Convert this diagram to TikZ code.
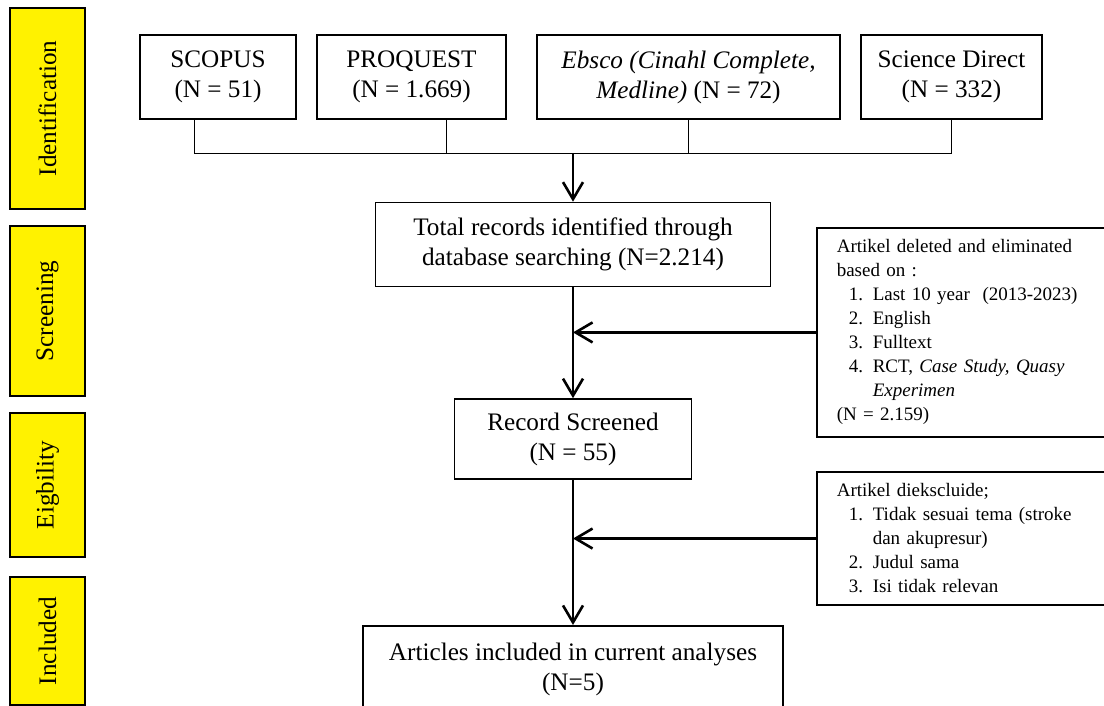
\documentclass[tikz,border=0pt]{standalone}
\usepackage{fontspec}
\setmainfont{Liberation Serif}
\usetikzlibrary{arrows.meta}
\tikzset{
  box/.style={draw,line width=.8pt,align=center,inner sep=2pt,minimum height=42pt,
    font=\fontsize{12.6}{15}\selectfont},
  stage/.style={draw,line width=1.3pt,fill=yellow,rotate=90,minimum height=37.5pt,
    inner sep=0pt,font=\fontsize{12.6}{15}\selectfont},
  note/.style={draw,line width=.8pt,align=left,anchor=north west,text width=124pt,
    inner xsep=10pt,inner ysep=6pt,font=\fontsize{9.5}{12}\selectfont},
  flow/.style={line width=1.3pt,-{Straight Barb[length=8.5pt,width=10pt]}},
  tie/.style={line width=.5pt}
}
\newcommand\itm[2]{\hspace*{6pt}\makebox[12pt][l]{#1}#2}
\begin{document}
\begin{tikzpicture}[x=.5pt,y=-.5pt]
\useasboundingbox (0,0) rectangle (1104,706);
\clip (0,0) rectangle (1104,706);
\foreach \nm/\y/\len/\txt in {ident/108.5/100.5/Identification,screen/311/85/Screening,
  elig/485/72/Eigbility,incl/641/64/Included}
  \node[stage,minimum width=\len pt] (\nm) at (47.5,\y) {\txt};
\node[box,minimum width=78pt] (scopus) at (218,77) {SCOPUS\\(N = 51)};
\node[box,minimum width=94.5pt] (proquest) at (411.5,77) {PROQUEST\\(N = 1.669)};
\node[box,minimum width=151.5pt] (ebsco) at (688.5,77)
  {\textit{Ebsco (Cinahl Complete,}\\\textit{Medline)} (N = 72)};
\node[box,minimum width=90.5pt] (science) at (951.5,77) {Science Direct\\(N = 332)};
\node[box,minimum width=197.5pt] (total) at (573,244.5)
  {Total records identified through\\database searching (N=2.214)};
\node[box,minimum width=118.5pt,minimum height=40pt] (record) at (573,439)
  {Record Screened\\(N = 55)};
\node[box,minimum width=210pt,anchor=north,inner ysep=8.5pt] (articles) at (573,625)
  {Articles included in current analyses\\(N=5)};
\node[note] (deleted) at (816,227) {Artikel deleted and eliminated\\based on :\\
  \itm{1.}{Last 10 year~ (2013-2023)}\\\itm{2.}{English}\\\itm{3.}{Fulltext}\\
  \itm{4.}{RCT, \textit{Case Study, Quasy}}\\\hspace*{18pt}\textit{Experimen}\\(N = 2.159)};
\node[note] (excluded) at (816,471) {Artikel diekscluide;\\
  \itm{1.}{Tidak sesuai tema (stroke}\\\hspace*{18pt}dan akupresur)\\
  \itm{2.}{Judul sama}\\\itm{3.}{Isi tidak relevan}};
\coordinate (join) at (573,153);
\draw[tie] ([xshift=-12pt]scopus.south) -- ++(0,34) -| (science.south);
\draw[tie] ([xshift=17.25pt]proquest.south) -- ++(0,34);
\draw[tie] (ebsco.south) -- ++(0,34);
\draw[flow] (join) -- (total);
\draw[flow] (total) -- (record);
\draw[flow] (record) -- (articles);
\draw[flow] (deleted.west) -- (deleted.west -| total.south);
\draw[flow] (excluded.west) -- (excluded.west -| record.south);
\end{tikzpicture}
\end{document}
